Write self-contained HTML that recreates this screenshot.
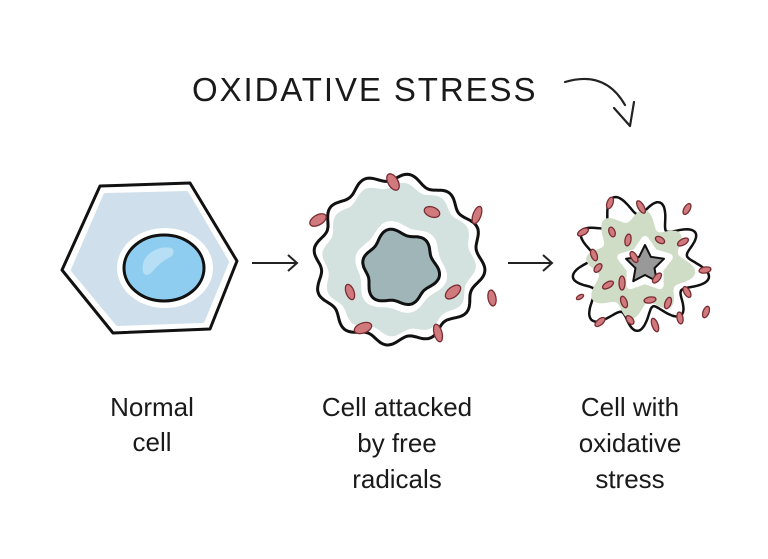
<!DOCTYPE html>
<html><head><meta charset="utf-8"><style>
html,body{margin:0;padding:0;background:#fff;}
svg{display:block;}
text{font-family:"Liberation Sans",sans-serif;fill:#1a1a1a;}
</style></head><body>
<svg id="s" width="768" height="559" viewBox="0 0 768 559" xmlns="http://www.w3.org/2000/svg">
<text x="365" y="101" font-size="33" text-anchor="middle" letter-spacing="2.5" textLength="346">OXIDATIVE STRESS</text>
<path d="M565 82 Q605 70 625 105" fill="none" stroke="#222" stroke-width="2.2" stroke-linecap="round"/>
<path d="M614 108 L630 126 L634 102" fill="none" stroke="#222" stroke-width="2.2" stroke-linecap="round" stroke-linejoin="round"/>
<!-- cell 1 -->
<path d="M100 186 L190 183 L237 261 L210 329 L113 333 L62 270 Z" fill="#fff" stroke="#111" stroke-width="3" stroke-linejoin="round"/>
<path d="M106 196 L186 194 L226 262 L202 320 L118 323 L74 270 Z" fill="#cfe0ec" stroke="#cfe0ec" stroke-width="6" stroke-linejoin="round"/>
<ellipse cx="165" cy="268" rx="48" ry="40" fill="#fff"/>
<ellipse cx="164" cy="268" rx="40" ry="33" fill="#8ecdef" stroke="#111" stroke-width="3"/>
<path d="M143 272 Q140 255 160 248 Q178 245 172 256 Q160 262 152 272 Q146 278 143 272Z" fill="#b6def5"/>
<!-- arrows -->
<path d="M252 263 L297 263 M288 255 L297 263 L288 271" fill="none" stroke="#222" stroke-width="2"/>
<path d="M508 263 L552 263 M543 255 L552 263 L543 271" fill="none" stroke="#222" stroke-width="2"/>
<g id="c2"></g>
<g id="c3"></g>
<text font-size="26" text-anchor="middle"><tspan x="152" y="416">Normal</tspan><tspan x="152" y="451">cell</tspan></text>
<text font-size="26" text-anchor="middle"><tspan x="397" y="416">Cell attacked</tspan><tspan x="397" y="452">by free</tspan><tspan x="397" y="488">radicals</tspan></text>
<text font-size="26" text-anchor="middle"><tspan x="630" y="416">Cell with</tspan><tspan x="630" y="452">oxidative</tspan><tspan x="630" y="488">stress</tspan></text>
</svg>
<script>
function wavy(cx,cy,r,amp,n,ph,pts){pts=pts||240;var d="";for(var i=0;i<=pts;i++){var a=i/pts*Math.PI*2;var rr=r+amp*Math.sin(n*a+ph)+amp*0.4*Math.sin(3*a+1);d+=(i?"L":"M")+(cx+rr*Math.cos(a)).toFixed(1)+" "+(cy+rr*Math.sin(a)).toFixed(1);}return d+"Z";}
function star(cx,cy,ro,ri,n){var d="";for(var i=0;i<2*n;i++){var a=i/(2*n)*Math.PI*2-Math.PI/2;var r=i%2?ri:ro;d+=(i?"L":"M")+(cx+r*Math.cos(a)).toFixed(1)+" "+(cy+r*Math.sin(a)).toFixed(1);}return d+"Z";}
function ell(x,y,rx,ry,rot){return '<ellipse cx="'+x+'" cy="'+y+'" rx="'+rx+'" ry="'+ry+'" transform="rotate('+rot+' '+x+' '+y+')" fill="#d07a7e" stroke="#7a2d33" stroke-width="1.3"/>';}
var c2=document.getElementById("c2");
var h='<path d="'+wavy(398,260,82,4,12,0)+'" fill="#fff" stroke="#111" stroke-width="3"/>';
h+='<path d="'+wavy(398,260,74,3,12,0.5)+'" fill="#d3e2de"/>';
h+='<path d="'+wavy(400,268,44,3,6,0)+'" fill="#fff"/>';
h+='<path d="'+wavy(400,268,36,3,6,0.3)+'" fill="#9fb5b8" stroke="#111" stroke-width="3"/>';
var e2=[[393,182,5,9,-30],[318,220,5,9,60],[432,212,5,8,-70],[477,215,4,9,20],[350,292,4,8,-20],[453,292,5,9,50],[492,298,4,8,-10],[363,328,5,9,70],[438,333,4,9,-15]];
e2.forEach(function(e){h+=ell.apply(null,e);});
c2.innerHTML=h;
var c3=document.getElementById("c3");
h='<path d="'+wavy(638,265,58,10,9,0)+'" fill="#fff" stroke="#111" stroke-width="2.5"/>';
h+='<path d="'+wavy(638,265,48,7,8,0.5)+'" fill="#cfdcc6"/>';
h+='<path d="'+star(645,265,25,15,5)+'" fill="#fff" stroke="#fff" stroke-width="8" stroke-linejoin="round"/>';
h+='<path d="'+star(645,265,20,10,5)+'" fill="#999" stroke="#111" stroke-width="2" stroke-linejoin="round"/>';
var e3=[[610,203,3,6,20],[641,207,3,7,-30],[687,209,3,6,30],[583,232,3,6,60],[612,232,3,5,-20],[628,240,3,6,10],[660,240,3,5,-60],[683,242,3,6,60],[594,255,3,6,-20],[634,257,3,6,-30],[705,270,3,6,80],[598,268,3,5,40],[622,283,3,7,0],[657,278,3,6,40],[687,292,3,6,-30],[608,285,3,6,60],[580,297,2,4,60],[624,302,3,6,-20],[650,300,3,6,80],[668,303,3,6,20],[600,322,3,6,50],[655,325,3,7,-20],[680,318,3,6,-10],[706,312,3,6,20],[630,320,3,5,-40]];
e3.forEach(function(e){h+=ell.apply(null,e);});
c3.innerHTML=h;
</script>
</body></html>
